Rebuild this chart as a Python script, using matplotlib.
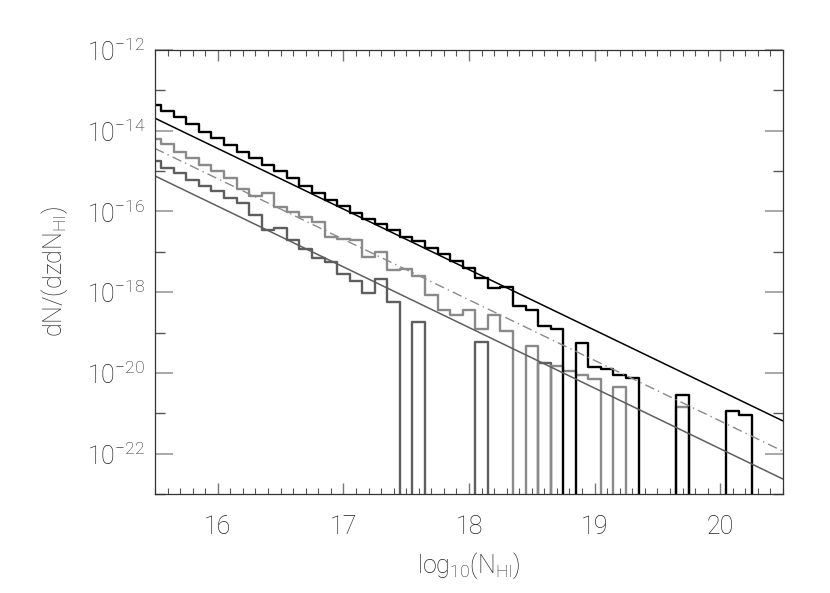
import numpy as np
import matplotlib
matplotlib.use("Agg")
import matplotlib.pyplot as plt
from matplotlib.ticker import FixedLocator, NullFormatter

plt.rcParams['font.family'] = ['Roboto', 'Liberation Sans', 'DejaVu Sans']
plt.rcParams['font.weight'] = 'light'
plt.rcParams['axes.labelweight'] = 'light'
plt.rcParams['mathtext.fontset'] = 'custom'
plt.rcParams['mathtext.rm'] = 'Roboto:light'
plt.rcParams['mathtext.it'] = 'Roboto:italic:light'
plt.rcParams['mathtext.bf'] = 'Roboto:bold'

# bin centres in log10(N_HI), 0.1 dex wide
log_nhi = np.linspace(15.5, 20.5, 51)

# log10 of dN/(dz dN_HI) per bin, None = empty bin
total_log = [
    -13.37, -13.50, -13.65, -13.84, -14.02, -14.19, -14.35, -14.52, -14.68, -14.85,
    -15.01, -15.18, -15.36, -15.55, -15.72, -15.86, -16.03, -16.19, -16.32, -16.46,
    -16.64, -16.72, -16.90, -17.06, -17.22, -17.40, -17.64, -17.90, -17.88, -18.34,
    -18.43, -18.84, -18.92, None, -19.25, -19.85, -19.91, -20.04, -20.13, None,
    None, None, -20.55, None, None, None, -20.95, -21.03, None, None,
    None,
]
sub1_log = [
    -14.21, -14.34, -14.52, -14.68, -14.84, -15.00, -15.16, -15.45, -15.62, -15.55,
    -15.90, -16.02, -16.14, -16.25, -16.64, -16.69, -16.71, -17.12, -17.01, -17.45,
    -17.43, -17.60, -18.07, -18.44, -18.57, -18.44, -18.92, -18.57, -18.96, None,
    -19.33, None, -19.83, -19.94, -20.04, -20.15, None, -20.34, None, None,
    None, None, -20.84, None, None, None, None, None, None, None,
    None,
]
sub2_log = [
    -14.74, -14.92, -15.04, -15.22, -15.38, -15.50, -15.66, -15.80, -16.10, -16.45,
    -16.40, -16.70, -16.92, -17.15, -17.25, -17.55, -17.72, -18.03, -17.68, -18.24,
    None, -18.75, None, None, None, None, -19.24, None, None, None,
    None, -19.75, None, None, None, None, None, None, None, None,
    None, None, None, None, None, None, None, None, None, None,
    None,
]

# power-law fits (end points)
fit_x = [15.5, 20.5]
fit_total = [10**-13.69, 10**-21.19]
fit_sub1 = [10**-14.44, 10**-21.94]
fit_sub2 = [10**-15.12, 10**-22.63]


def to_values(logs):
    arr = np.array(logs, dtype=float)
    return np.where(np.isnan(arr), 1e-40, 10**arr)


fig = plt.figure(figsize=(8.30, 5.93), dpi=100)
ax = fig.add_axes([0.1867, 0.1669, 0.7567, 0.7488])

c_black = '#000000'
c_light = '#8a8a8a'
c_dark = '#5e5e5e'

ax.step(log_nhi, to_values(sub2_log), where='mid', color=c_dark, lw=1.7)
ax.step(log_nhi, to_values(sub1_log), where='mid', color=c_light, lw=1.7)
ax.step(log_nhi, to_values(total_log), where='mid', color=c_black, lw=1.7)

ax.plot(fit_x, fit_total, color=c_black, lw=1.1)
ax.plot(fit_x, fit_sub1, color=c_light, lw=1.0, dashes=[7, 3, 1, 3])
ax.plot(fit_x, fit_sub2, color=c_dark, lw=1.1)

ax.set_yscale('log')
ax.set_xlim(15.5, 20.5)
ax.set_ylim(1e-23, 1e-12)

ax.yaxis.set_major_locator(FixedLocator([10.0**e for e in range(-22, -11, 2)]))
ax.yaxis.set_minor_locator(FixedLocator([10.0**e for e in range(-23, -12, 2)]))
ax.yaxis.set_minor_formatter(NullFormatter())
ax.set_xticks([16, 17, 18, 19, 20])
ax.set_xticks(np.linspace(15.5, 20.5, 51), minor=True)

for s in ax.spines.values():
    s.set_color('#333333')
    s.set_linewidth(0.9)

ax.tick_params(axis='y', which='major', direction='in', length=13, width=1.2,
               color='#999999', left=True, right=True, labelsize=18, pad=7,
               labelcolor='#222222')
ax.tick_params(axis='y', which='minor', direction='in', length=7, width=1.0,
               color='#555555', left=True, right=True)
ax.tick_params(axis='x', which='major', direction='in', length=8, width=1.0,
               color='#777777', bottom=True, top=True, labelsize=18, pad=15,
               labelcolor='#222222')
ax.tick_params(axis='x', which='minor', direction='in', length=4, width=0.8,
               color='#555555', bottom=True, top=True)

ax.set_xlabel(r'log$_{10}$(N$_{\rm HI}$)', fontsize=18, fontweight='light',
              color='#222222', labelpad=8)
ax.set_ylabel(r'dN/(dzdN$_{\rm HI}$)', fontsize=18, fontweight='light',
              color='#222222', labelpad=12)

fig.savefig('out.png', dpi=100)
